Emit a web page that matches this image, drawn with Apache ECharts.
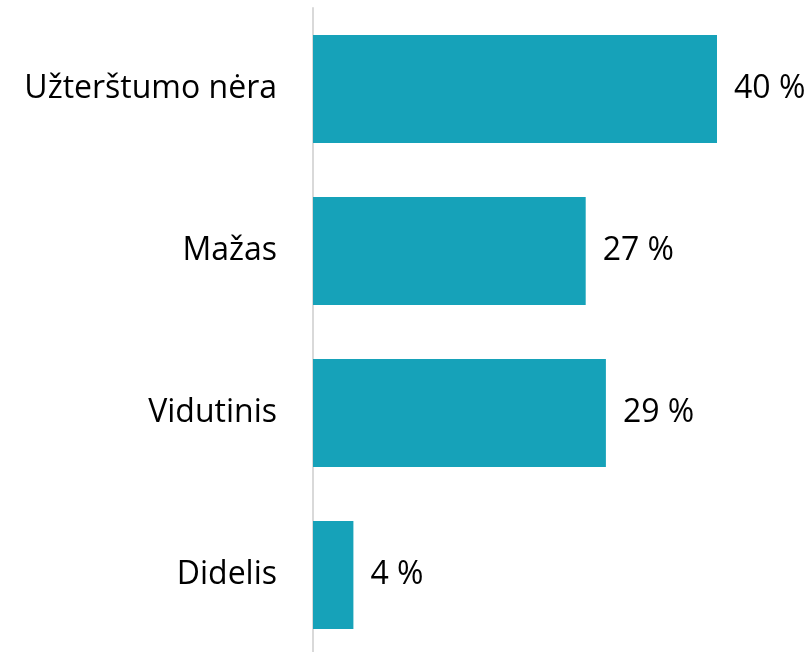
<!DOCTYPE html>
<html>
<head>
<meta charset="utf-8">
<script src="https://cdn.jsdelivr.net/npm/echarts@6/dist/echarts.min.js"></script>
<style>
  html, body { margin: 0; padding: 0; background: #fff; }
  #chart { width: 812px; height: 652px; }
</style>
</head>
<body>
<div id="chart"></div>
<script>
// Pollution level categories, top to bottom
const categories = ['Užterštumo nėra', 'Mažas', 'Vidutinis', 'Didelis'];
// Share of responses, percent
const shares = [40, 27, 29, 4];

const chart = echarts.init(document.getElementById('chart'), null, { renderer: 'canvas' });
const font = '"Open Sans", "Noto Sans", sans-serif';

chart.setOption({
  animation: false,
  grid: {
    left: 313, top: 8, width: 505, height: 648,
    containLabel: false,
    outerBoundsMode: 'none'
  },
  xAxis: {
    type: 'value',
    min: 0,
    max: 50,
    show: false
  },
  yAxis: {
    type: 'category',
    data: categories,
    inverse: true,
    axisLine: { show: true, lineStyle: { color: '#d9d9d9', width: 2 } },
    axisTick: { show: false },
    axisLabel: {
      color: '#000',
      fontFamily: font,
      fontSize: 32,
      margin: 36
    }
  },
  series: [{
    type: 'bar',
    data: shares,
    barWidth: 108,
    itemStyle: { color: '#16a2b9' },
    label: {
      show: true,
      position: 'right',
      distance: 17,
      formatter: '{c} %',
      color: '#000',
      fontFamily: font,
      fontSize: 32
    }
  }]
});
</script>
</body>
</html>
